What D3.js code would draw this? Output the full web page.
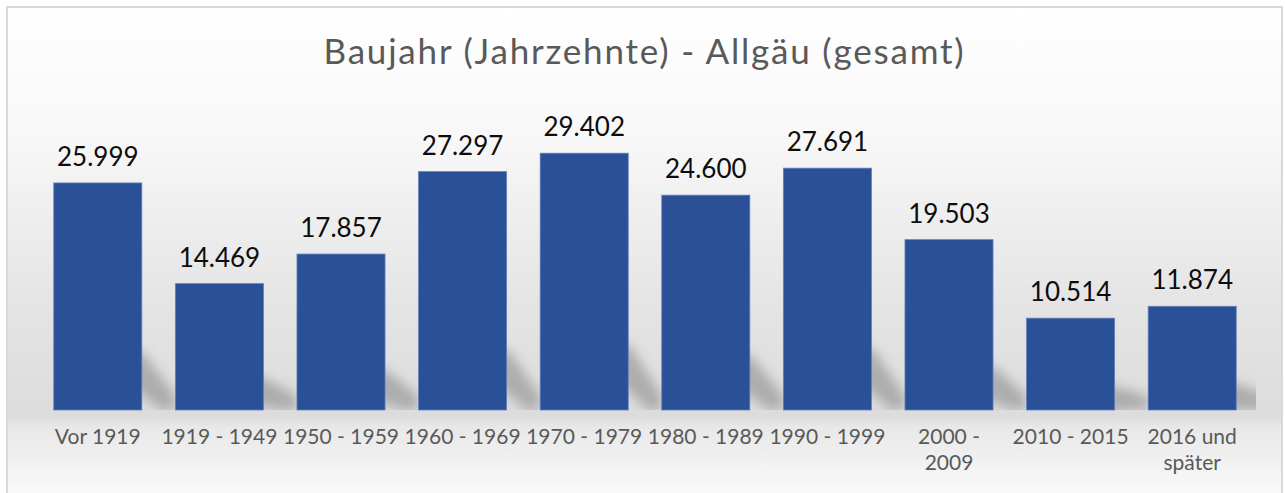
<!DOCTYPE html>
<html>
<head>
<meta charset="utf-8">
<script src="https://cdn.jsdelivr.net/npm/d3@7"></script>
<style>
  body { margin: 0; background: #fff; }
  svg { display: block; }
</style>
</head>
<body>
<script>
// data
var title = "Baujahr (Jahrzehnte) - Allgäu (gesamt)";
var categories = ["Vor 1919", "1919 - 1949", "1950 - 1959", "1960 - 1969", "1970 - 1979",
  "1980 - 1989", "1990 - 1999", "2000 -\n2009", "2010 - 2015", "2016 und\nspäter"];
var values = [25999, 14469, 17857, 27297, 29402, 24600, 27691, 19503, 10514, 11874];
var valueLabels = ["25.999", "14.469", "17.857", "27.297", "29.402", "24.600", "27.691", "19.503", "10.514", "11.874"];

// size
var w = 1285;
var h = 493;
var font = "Lato, 'Open Sans', sans-serif";

var svg = d3.select("body")
.append("svg")
.attr("width", w)
.attr("height", h);

var defs = svg.append("defs");

// chart area gradient
var bg = defs.append("linearGradient")
.attr("id", "bg")
.attr("x1", 0).attr("y1", 0).attr("x2", 0).attr("y2", 1);
bg.append("stop").attr("offset", "0%").attr("stop-color", "#ffffff");
bg.append("stop").attr("offset", "25%").attr("stop-color", "#f8f8f8");
bg.append("stop").attr("offset", "60%").attr("stop-color", "#e4e4e4");
bg.append("stop").attr("offset", "82%").attr("stop-color", "#dcdcdc");
bg.append("stop").attr("offset", "84%").attr("stop-color", "#e8e8e8");
bg.append("stop").attr("offset", "100%").attr("stop-color", "#fdfdfd");

var blur = defs.append("filter")
.attr("id", "blur")
.attr("x", "-50%").attr("y", "-50%").attr("width", "200%").attr("height", "200%");
blur.append("feGaussianBlur").attr("stdDeviation", 6);

defs.append("clipPath")
.attr("id", "plotclip")
.append("rect")
.attr("x", 30).attr("y", 100).attr("width", 1226).attr("height", 310);

// frame
svg.append("rect")
.attr("x", 7)
.attr("y", 7)
.attr("width", 1275)
.attr("height", 500)
.attr("fill", "url(#bg)")
.attr("stroke", "#d9d9d9")
.attr("stroke-width", 2);

// scales
var x = d3.scaleBand()
.domain(categories)
.range([37, 1253])
.paddingInner(0.276)
.paddingOuter(0.138);

var y = d3.scaleLinear()
.domain([0, 30000])
.range([410, 148]);

var base = y(0);
var gap = x.step() - x.bandwidth();

// shadows
svg.append("g")
.attr("clip-path", "url(#plotclip)")
.selectAll("polygon")
.data(values)
.enter()
.append("polygon")
.attr("points", function(d, i) {
  var x1 = x(categories[i]) + x.bandwidth();
  var sh = (base - y(d)) * 0.25;
  return [
    [x1 - 20, base - sh - 4],
    [x1 + 2, base - sh],
    [x1 + gap, base - 14],
    [x1 + gap, base],
    [x1 + gap - 14, base],
    [x1 - 20, base - sh + 26]
  ].map(function(p) { return p.join(","); }).join(" ");
})
.attr("fill", "#8c8c8c")
.attr("opacity", 0.6)
.attr("filter", "url(#blur)");

// bars
svg.selectAll("rect.bar")
.data(values)
.enter()
.append("rect")
.attr("class", "bar")
.attr("x", function(d, i) { return x(categories[i]); })
.attr("y", function(d) { return y(d); })
.attr("width", x.bandwidth())
.attr("height", function(d) { return base - y(d); })
.attr("fill", "#2a5097")
.attr("stroke", "#5f7fbd")
.attr("stroke-width", 0.8);

// value labels
svg.selectAll("text.val")
.data(values)
.enter()
.append("text")
.attr("class", "val")
.text(function(d, i) { return valueLabels[i]; })
.attr("text-anchor", "middle")
.attr("x", function(d, i) { return x(categories[i]) + x.bandwidth() / 2; })
.attr("y", function(d) { return y(d) - 17; })
.attr("font-family", font)
.attr("font-size", "26px")
.attr("fill", "#0d0d0d");

// category labels
var cat = svg.selectAll("text.cat")
.data(categories)
.enter()
.append("text")
.attr("class", "cat")
.attr("text-anchor", "middle")
.attr("x", function(d) { return x(d) + x.bandwidth() / 2; })
.attr("y", 444)
.attr("font-family", font)
.attr("font-size", "21px")
.attr("fill", "#595959");

cat.selectAll("tspan")
.data(function(d) { return d.split("\n"); })
.enter()
.append("tspan")
.attr("x", function() { return d3.select(this.parentNode).attr("x"); })
.attr("dy", function(d, i) { return i === 0 ? 0 : 26; })
.text(function(d) { return d; });

// title
svg.append("text")
.text(title)
.attr("text-anchor", "middle")
.attr("x", 644.5)
.attr("y", 64)
.attr("font-family", font)
.attr("font-size", "35px")
.attr("letter-spacing", "1.8px")
.attr("fill", "#595959");
</script>
</body>
</html>
